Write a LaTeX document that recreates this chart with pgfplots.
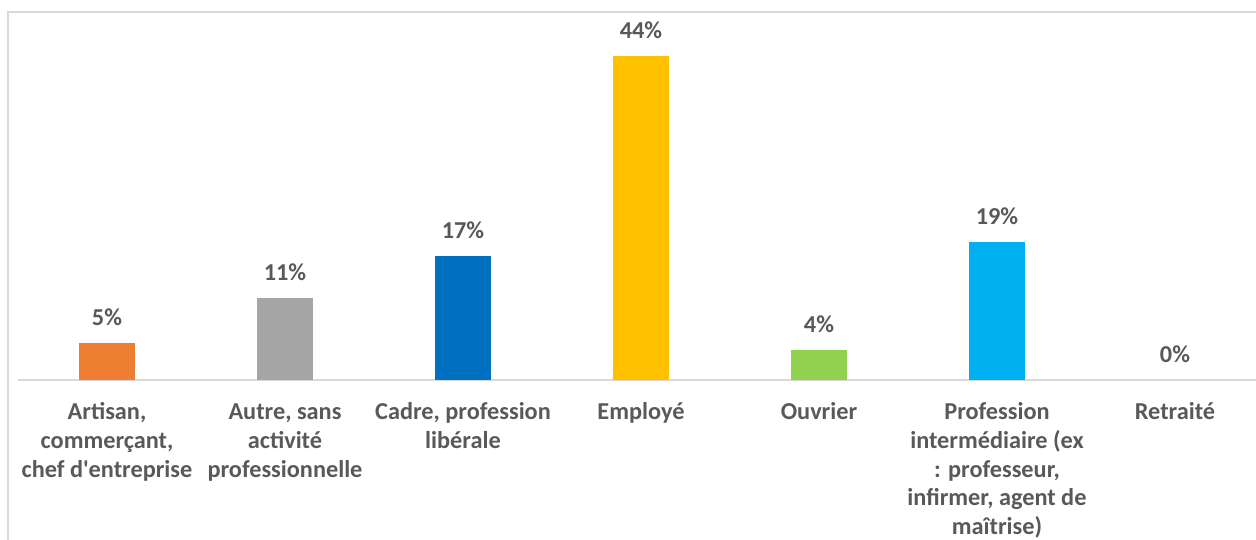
\documentclass[border=0pt]{standalone}
\usepackage{fontspec}
\setmainfont{Carlito}[Ligatures=TeXOff]
\usepackage{pgfplots}
\pgfplotsset{compat=1.18}
\definecolor{txt}{HTML}{595959}
\definecolor{lgray}{HTML}{D9D9D9}
\definecolor{cOrange}{HTML}{ED7D31}
\definecolor{cGray}{HTML}{A5A5A5}
\definecolor{cBlue}{HTML}{0070C0}
\definecolor{cYellow}{HTML}{FFC000}
\definecolor{cGreen}{HTML}{92D050}
\definecolor{cCyan}{HTML}{00B0F0}
\newcommand{\lbl}[1]{\begin{tabular}[t]{@{}c@{}}#1\end{tabular}}
\newcommand{\cfont}{\bfseries\fontsize{24.3bp}{28.8bp}\selectfont}
\begin{document}
\begin{tikzpicture}[font=\cfont]
\useasboundingbox (0,0) rectangle (1256bp,540bp);
\draw[lgray, line width=1.5bp] (8bp,0) -- (8bp,528bp) -- (1260bp,528bp);
\begin{axis}[
  at={(18bp,160bp)}, anchor=south west,
  scale only axis,
  width=1246bp, height=367.5bp,
  xmin=-0.5, xmax=6.5, ymin=0, ymax=50,
  enlargelimits=false,
  axis x line*=bottom,
  axis y line=none,
  x axis line style={-, draw=lgray, line width=1.5bp},
  ybar, bar width=56.5bp, bar shift=0pt,
  xtick={0,1,2,3,4,5,6},
  xticklabels={{\lbl{Artisan,\\commerçant,\\chef d'entreprise}},
               {\lbl{Autre, sans\\activité\\professionnelle}},
               {\lbl{Cadre, profession\\libérale}},
               {\lbl{Employé}},
               {\lbl{Ouvrier}},
               {\lbl{Profession\\intermédiaire (ex\\: professeur,\\infirmer, agent de\\maîtrise)}},
               {\lbl{Retraité}}},
  major tick length=0pt,
  xticklabel style={text=txt, anchor=base, yshift=-39.5bp, inner sep=0pt, font=\cfont},
  point meta=y,
  /pgf/number format/assume math mode=true,
  nodes near coords={\pgfmathprintnumber[fixed,precision=0,assume math mode=true]{\pgfplotspointmeta}\%},
  every node near coord/.append style={anchor=base, yshift=17.5bp, text=txt, font=\cfont},
  clip=false,
]
\addplot[fill=cOrange, draw=none] coordinates {(0,5.07)};
\addplot[fill=cGray, draw=none] coordinates {(1,11.16)};
\addplot[fill=cBlue, draw=none] coordinates {(2,16.87)};
\addplot[fill=cYellow, draw=none] coordinates {(3,44.12)};
\addplot[fill=cGreen, draw=none] coordinates {(4,4.08)};
\addplot[fill=cCyan, draw=none] coordinates {(5,18.78)};
\addplot[fill=none, draw=none] coordinates {(6,0)};
\end{axis}
\end{tikzpicture}
\end{document}
